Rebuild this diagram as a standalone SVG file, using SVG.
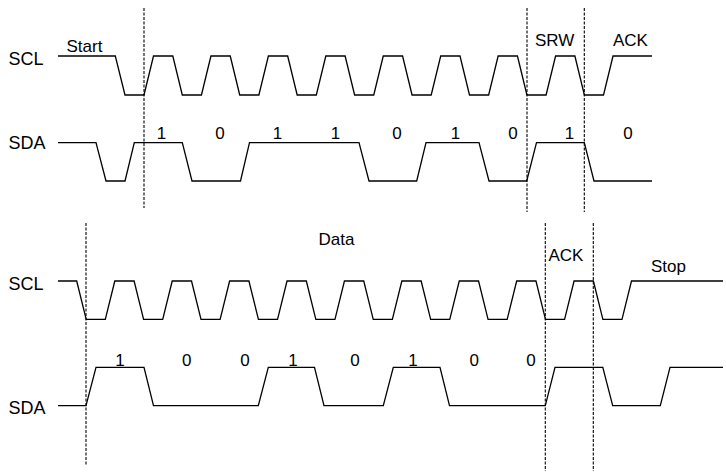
<svg xmlns="http://www.w3.org/2000/svg" width="726" height="473" viewBox="0 0 726 473">
<style>
.sig{fill:none;stroke:#000;stroke-width:1.3;stroke-linejoin:miter}
.dash{fill:none;stroke:#000;stroke-width:1.1;stroke-dasharray:3,1.5}
text{font-family:"Liberation Sans",Arial,sans-serif;font-size:17px;fill:#000}
.n{font-size:18px}
.c{text-anchor:middle}
</style>
<rect width="726" height="473" fill="#fff"/>
<g id="top-scl">
<text class="n" x="8.5" y="64.5">SCL</text>
<polyline class="sig" points="58,56 115.3,56 125,95 144,95 153.5,56 172.8,56 182.3,95 201.44,95 210.94,56 230.24,56 239.74,95 258.88,95 268.38,56 287.68,56 297.18,95 316.32,95 325.82,56 345.12,56 354.62,95 373.76,95 383.26,56 402.56,56 412.06,95 431.2,95 440.7,56 460,56 469.5,95 488.64,95 498.14,56 517.44,56 526.94,95 546.08,95 555.58,56 574.88,56 584.38,95 603.52,95 613.02,56 652,56"/>
</g>
<g id="top-sda">
<text class="n" x="8.5" y="148.5">SDA</text>
<polyline class="sig" points="58,142.7 96,142.7 106,181 125,181 134.3,142.7 182.3,142.7 192,181 240.5,181 249.5,142.7 359,142.7 369,181 416.7,181 426,142.7 479,142.7 489,181 526.7,181 536.5,142.7 584.3,142.7 594,181 652,181"/>
</g>
<g id="top-labels">
<text x="66.5" y="52">Start</text>
<text x="535" y="46">SRW</text>
<text x="613" y="46">ACK</text>
<text class="c" x="161.5" y="139">1</text>
<text class="c" x="220" y="139">0</text>
<text class="c" x="277.5" y="139">1</text>
<text class="c" x="335.5" y="139">1</text>
<text class="c" x="397" y="139">0</text>
<text class="c" x="455.5" y="139">1</text>
<text class="c" x="513" y="139">0</text>
<text class="c" x="569.5" y="139">1</text>
<text class="c" x="628" y="139">0</text>
</g>
<g id="bottom-scl">
<text class="n" x="8.5" y="290">SCL</text>
<polyline class="sig" points="58,281 76.7,281 86.2,319.3 105.3,319.3 114.8,281 134.1,281 143.6,319.3 162.71,319.3 172.21,281 191.51,281 201.01,319.3 220.12,319.3 229.62,281 248.92,281 258.42,319.3 277.53,319.3 287.03,281 306.33,281 315.83,319.3 334.94,319.3 344.44,281 363.74,281 373.24,319.3 392.35,319.3 401.85,281 421.15,281 430.65,319.3 449.76,319.3 459.26,281 478.56,281 488.06,319.3 507.17,319.3 516.67,281 535.97,281 545.47,319.3 564.58,319.3 574.08,281 593.38,281 602.88,319.3 621.99,319.3 631.49,281 723,281"/>
</g>
<g id="bottom-sda">
<text class="n" x="8.5" y="414">SDA</text>
<polyline class="sig" points="58,405.7 86,405.7 96,367.3 144,367.3 153.5,405.7 258.3,405.7 268.3,367.3 314.5,367.3 324,405.7 383.3,405.7 393.3,367.3 440,367.3 449.5,405.7 545.3,405.7 555,367.3 602.8,367.3 612.7,405.7 660.3,405.7 670,367.3 723,367.3"/>
</g>
<g id="bottom-labels">
<text x="318.5" y="245">Data</text>
<text x="548.5" y="261">ACK</text>
<text x="651" y="271.5">Stop</text>
<text class="c" x="120" y="365.5">1</text>
<text class="c" x="186.7" y="365.5">0</text>
<text class="c" x="245" y="365.5">0</text>
<text class="c" x="293" y="365.5">1</text>
<text class="c" x="355" y="365.5">0</text>
<text class="c" x="413" y="365.5">1</text>
<text class="c" x="474.3" y="365.5">0</text>
<text class="c" x="531" y="365.5">0</text>
</g>
<g id="connectors">
<line class="dash" x1="144" y1="8" x2="144" y2="208"/>
<line class="dash" x1="527" y1="8" x2="527" y2="212"/>
<line class="dash" x1="584.3" y1="8" x2="584.3" y2="212"/>
<line class="dash" x1="86" y1="223" x2="86" y2="465"/>
<line class="dash" x1="545.3" y1="223" x2="545.3" y2="471"/>
<line class="dash" x1="593.3" y1="223" x2="593.3" y2="471"/>
</g>
</svg>
